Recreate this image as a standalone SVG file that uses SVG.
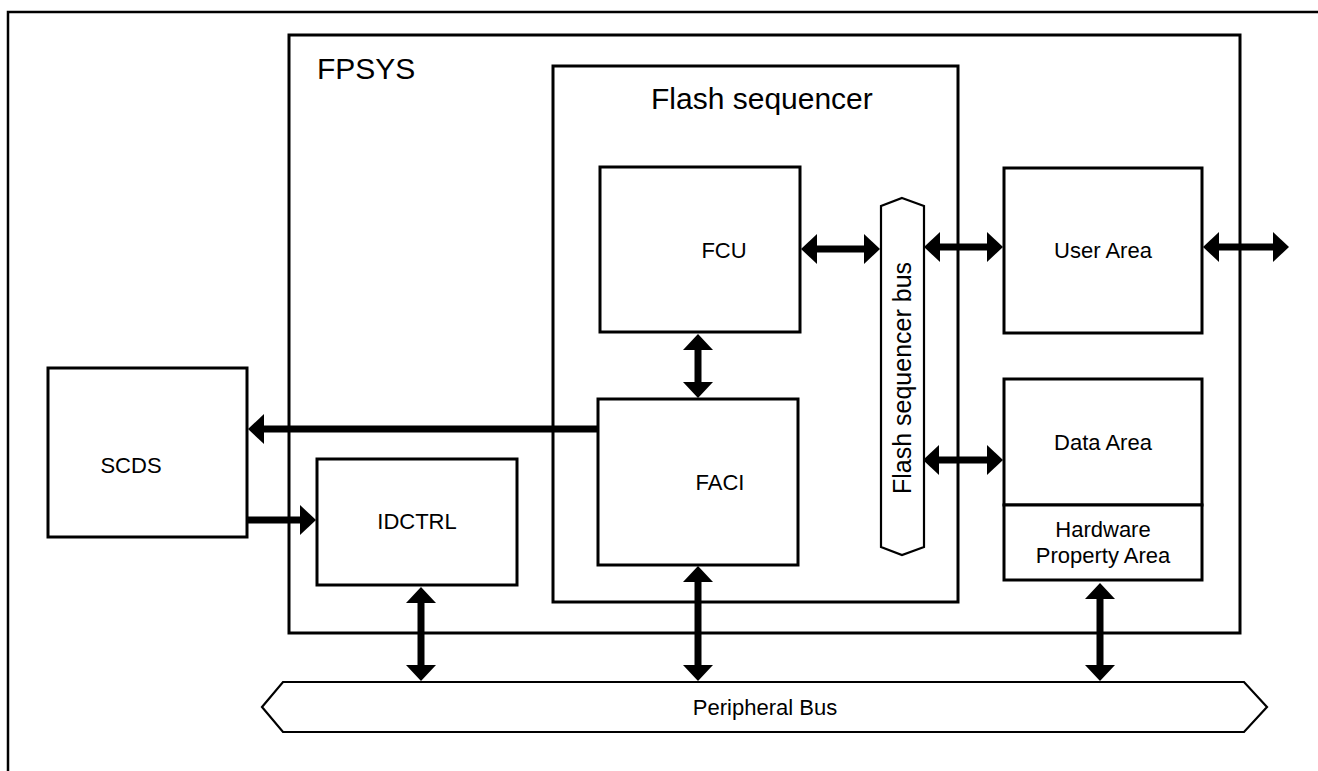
<svg xmlns="http://www.w3.org/2000/svg" width="1318" height="771" viewBox="0 0 1318 771">
<defs>
<style>
.box{fill:#fff;stroke:#000;stroke-width:3}
.bus{fill:#fff;stroke:#000;stroke-width:2.2}
.lbl{font-family:"Liberation Sans",Arial,sans-serif;font-size:22px;fill:#000;text-anchor:middle}
.ttl{font-family:"Liberation Sans",Arial,sans-serif;font-size:30px;fill:#000}
.conn{stroke:#000;stroke-width:7;fill:none}
</style>
<marker id="ah" viewBox="0 0 16 30" refX="8" refY="15" markerWidth="16" markerHeight="30" markerUnits="userSpaceOnUse" orient="auto-start-reverse">
<path d="M0,0 L16,15 L0,30 Z" fill="#000"/>
</marker>
</defs>
<rect width="1318" height="771" fill="#fff"/>
<g id="frame">
<path d="M8,771 L8,12 L1318,12" fill="none" stroke="#000" stroke-width="2.5"/>
</g>
<g id="fpsys">
<rect class="box" x="289" y="35" width="951" height="598"/>
<text class="ttl" x="317" y="79">FPSYS</text>
</g>
<g id="flash-sequencer">
<rect class="box" x="553" y="66" width="405" height="536"/>
<text class="ttl" x="651" y="109">Flash sequencer</text>
</g>
<g id="fcu">
<rect class="box" x="600" y="167" width="200" height="165"/>
<text class="lbl" x="724" y="258">FCU</text>
</g>
<g id="faci">
<rect class="box" x="598" y="399" width="200" height="166"/>
<text class="lbl" x="720" y="490">FACI</text>
</g>
<g id="idctrl">
<rect class="box" x="317" y="459" width="200" height="126"/>
<text class="lbl" x="417" y="529">IDCTRL</text>
</g>
<g id="scds">
<rect class="box" x="48" y="368" width="199" height="169"/>
<text class="lbl" x="131" y="473">SCDS</text>
</g>
<g id="user-area">
<rect class="box" x="1004" y="168" width="198" height="165"/>
<text class="lbl" x="1103" y="258">User Area</text>
</g>
<g id="data-area">
<rect class="box" x="1004" y="379" width="198" height="126"/>
<text class="lbl" x="1103" y="450">Data Area</text>
</g>
<g id="hw-property-area">
<rect class="box" x="1004" y="505" width="198" height="75"/>
<text class="lbl" x="1103" y="537">Hardware</text>
<text class="lbl" x="1103" y="563">Property Area</text>
</g>
<g id="flash-sequencer-bus">
<polygon class="bus" points="902,198 924,206 924,547 902,555 881,547 881,206"/>
<text class="lbl" style="font-size:25px" transform="translate(911,378) rotate(-90)" x="0" y="0">Flash sequencer bus</text>
</g>
<g id="peripheral-bus">
<polygon class="bus" points="262,707 283,682 1244,682 1267,707 1244,732 283,732"/>
<text class="lbl" x="765" y="715">Peripheral Bus</text>
</g>
<g id="connectors">
<line class="conn" x1="809" y1="249" x2="872" y2="249" marker-start="url(#ah)" marker-end="url(#ah)"/>
<line class="conn" x1="932" y1="247" x2="995" y2="247" marker-start="url(#ah)" marker-end="url(#ah)"/>
<line class="conn" x1="1211" y1="247" x2="1281" y2="247" marker-start="url(#ah)" marker-end="url(#ah)"/>
<line class="conn" x1="931" y1="460" x2="995" y2="460" marker-start="url(#ah)" marker-end="url(#ah)"/>
<line class="conn" x1="698" y1="342" x2="698" y2="390" marker-start="url(#ah)" marker-end="url(#ah)"/>
<line class="conn" x1="598" y1="429" x2="256" y2="429" marker-end="url(#ah)"/>
<line class="conn" x1="248" y1="520" x2="308" y2="520" marker-end="url(#ah)"/>
<line class="conn" x1="421" y1="595" x2="421" y2="673" marker-start="url(#ah)" marker-end="url(#ah)"/>
<line class="conn" x1="698" y1="574" x2="698" y2="673" marker-start="url(#ah)" marker-end="url(#ah)"/>
<line class="conn" x1="1100" y1="591" x2="1100" y2="673" marker-start="url(#ah)" marker-end="url(#ah)"/>
</g>
</svg>
